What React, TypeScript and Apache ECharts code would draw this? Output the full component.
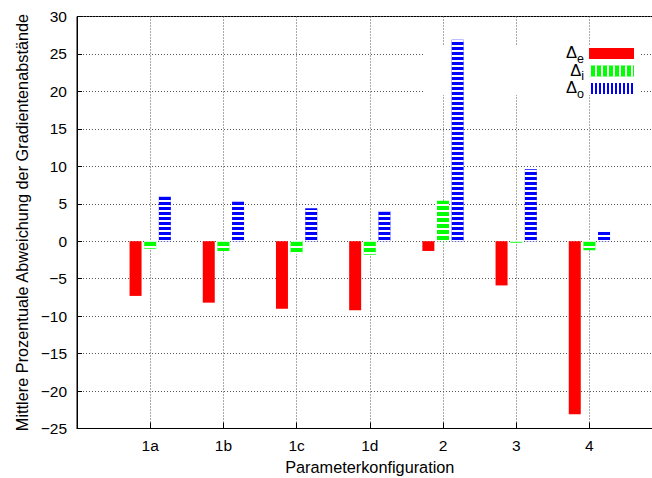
import React, { useEffect, useRef } from 'react';
import * as echarts from 'echarts';

// Parameter configurations on the x axis
const categories = ['1a', '1b', '1c', '1d', '2', '3', '4'];

// Mean percentage deviation per configuration
const deltaE = [-7.3, -8.2, -9.0, -9.2, -1.3, -5.9, -23.1];
const deltaI = [-1.0, -1.3, -1.7, -1.8, 5.4, -0.2, -1.2];
const deltaO = [6.0, 5.3, 4.4, 4.0, 26.9, 9.6, 1.5];

const seriesNames = ['Δe', 'Δi', 'Δo'];
const yMin = -25;
const yMax = 30;
const yStep = 5;

const FONT = '"Liberation Sans", Arial, Helvetica, sans-serif';

export default function App() {
  const ref = useRef<HTMLDivElement>(null);

  useEffect(() => {
    if (!ref.current) return;
    const chart = echarts.init(ref.current, undefined, { renderer: 'svg' });

    // empty slots either side of the clusters give the outer margin of the x range
    const axisCats = ['', ...categories, ''];
    const pad = (arr: number[]) => [null, ...arr, null];

    const gridLine = { show: true, lineStyle: { color: '#555', width: 1, type: [1, 2] as number[] } };

    const option: any = {
      animation: false,
      textStyle: { fontFamily: FONT, color: '#000' },
      grid: {
        left: 77,
        top: 16.5,
        width: 585.6,
        height: 412,
        outerBoundsMode: 'none',
        containLabel: false,
        show: true,
        borderColor: '#000',
        borderWidth: 1,
        backgroundColor: 'transparent',
      },
      graphic: [
        {
          // opaque key background that interrupts the grid lines
          type: 'rect',
          z: 1,
          silent: true,
          shape: { x: 424, y: 45, width: 216, height: 50 },
          style: { fill: '#fff' },
        },
      ],
      legend: {
        orient: 'vertical',
        right: 18,
        top: 41.5,
        align: 'right',
        padding: 0,
        itemWidth: 45,
        itemHeight: 11,
        itemGap: -6.5,
        selectedMode: false,
        formatter: (name: string) => `{d|Δ}{s|${name.slice(1)}}`,
        textStyle: {
          fontFamily: FONT,
          color: '#000',
          rich: {
            // subscript is pushed down with top padding
            d: { fontSize: 16.5, lineHeight: 16, padding: [2, 0, 5, 0], fontFamily: FONT, color: '#000' },
            s: { fontSize: 12.5, lineHeight: 11, padding: [10, 0, 0, 0], fontFamily: FONT, color: '#000' },
          },
        },
        data: [
          { name: seriesNames[0], icon: 'rect' },
          {
            name: seriesNames[1],
            icon: 'rect',
            itemStyle: {
              decal: { symbol: 'rect', symbolSize: 1, color: '#fff', dashArrayX: [2, 4], dashArrayY: [20, 0], rotation: 0 },
            },
          },
          {
            name: seriesNames[2],
            icon: 'rect',
            itemStyle: {
              decal: { symbol: 'rect', symbolSize: 1, color: '#fff', dashArrayX: [2, 2], dashArrayY: [20, 0], rotation: 0 },
            },
          },
        ],
      },
      xAxis: {
        type: 'category',
        data: axisCats,
        boundaryGap: false,
        name: 'Parameterkonfiguration',
        nameLocation: 'middle',
        nameGap: 30,
        nameTextStyle: { fontSize: 16.3, fontFamily: FONT, color: '#000' },
        axisLine: { show: true, onZero: false, lineStyle: { color: '#000', width: 1 } },
        axisTick: { show: true, inside: true, length: 6, lineStyle: { color: '#000' } },
        axisLabel: { show: true, margin: 9, fontSize: 15.5, fontFamily: FONT, color: '#000', interval: 0 },
        splitLine: gridLine,
      },
      yAxis: {
        type: 'value',
        min: yMin,
        max: yMax,
        interval: yStep,
        name: 'Mittlere Prozentuale Abweichung der Gradientenabstände',
        nameLocation: 'middle',
        nameGap: 47,
        nameTextStyle: { fontSize: 16.3, fontFamily: FONT, color: '#000' },
        axisLine: { show: true, lineStyle: { color: '#000', width: 1 } },
        axisTick: { show: true, inside: true, length: 5, lineStyle: { color: '#000' } },
        axisLabel: {
          margin: 10,
          fontSize: 15.5,
          fontFamily: FONT,
          color: '#000',
          formatter: (v: number) => (v < 0 ? '\u2212' + Math.abs(v) : String(v)),
        },
        splitLine: gridLine,
      },
      series: [
        {
          name: seriesNames[0],
          type: 'bar',
          data: pad(deltaE),
          barWidth: 12,
          barGap: '22%',
          itemStyle: { color: '#ff0000' },
        },
        {
          name: seriesNames[1],
          type: 'bar',
          data: pad(deltaI),
          barWidth: 12,
          barGap: '22%',
          itemStyle: {
            color: '#00ff00',
            decal: { symbol: 'rect', symbolSize: 1, color: '#fff', dashArrayX: [20, 0], dashArrayY: [2, 4], rotation: 0 },
          },
        },
        {
          name: seriesNames[2],
          type: 'bar',
          data: pad(deltaO),
          barWidth: 12,
          barGap: '22%',
          itemStyle: {
            color: '#0000ff',
            decal: { symbol: 'rect', symbolSize: 1, color: '#fff', dashArrayX: [20, 0], dashArrayY: [2, 3], rotation: 0 },
          },
        },
      ],
    };

    chart.setOption(option);
    return () => chart.dispose();
  }, []);

  return (
    <div
      ref={ref}
      style={{ position: 'fixed', left: 0, top: 0, width: 652, height: 478, background: '#fff' }}
    />
  );
}
